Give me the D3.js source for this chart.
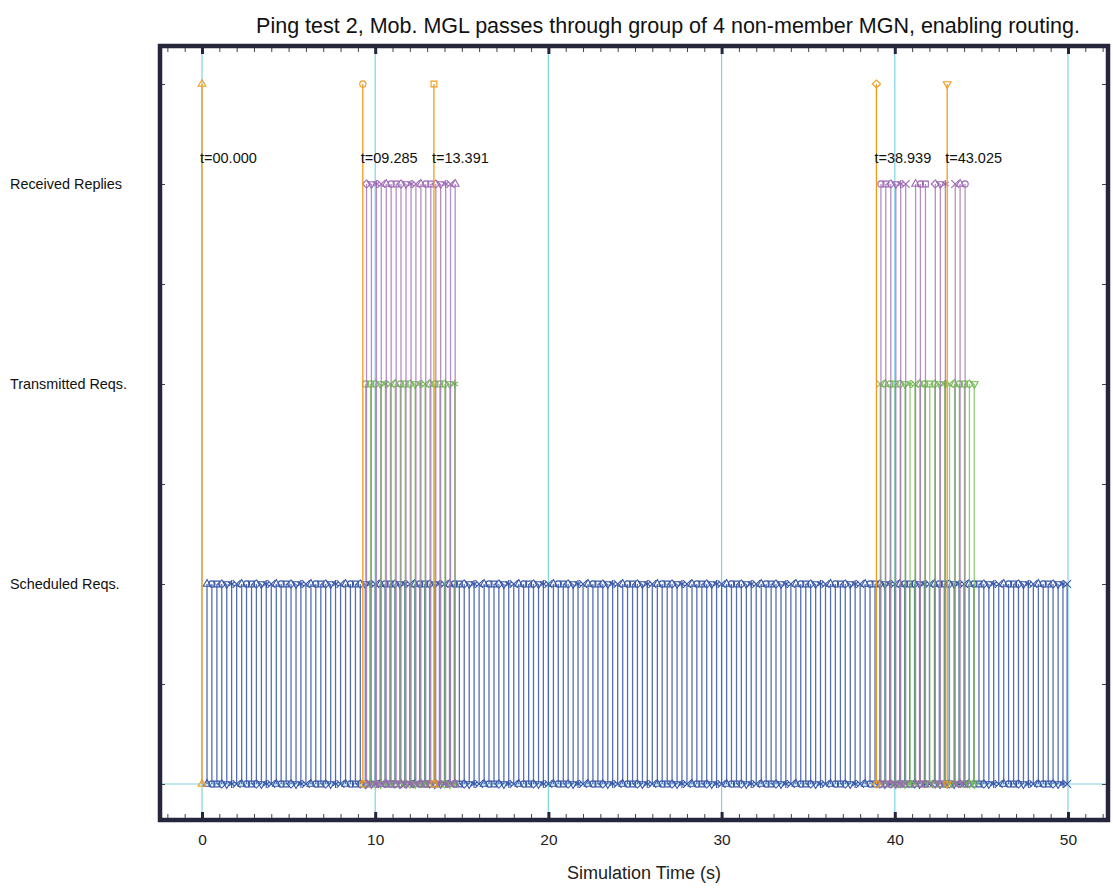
<!DOCTYPE html>
<html>
<head>
<meta charset="utf-8">
<script src="https://cdn.jsdelivr.net/npm/d3@7"></script>
<style>
  body { margin: 0; background: #fff; }
  svg { display: block; font-family: "Liberation Sans", Arial, sans-serif; }
</style>
</head>
<body>
<div id="visualization"></div>
<script>
// ---- data ----
const title = "Ping test 2, Mob. MGL passes through group of 4 non-member MGN, enabling routing.";
const levelLabels = ["Scheduled Reqs.", "Transmitted Reqs.", "Received Replies"];
const xTicks = [0, 10, 20, 30, 40, 50];

const scheduledTimes = [
  0.29, 0.57, 0.86, 1.14, 1.43, 1.71, 2.00,
  2.29, 2.57, 2.86, 3.14, 3.43, 3.71, 4.00,
  4.29, 4.57, 4.86, 5.14, 5.43, 5.71, 6.00,
  6.29, 6.57, 6.86, 7.14, 7.43, 7.71, 8.00,
  8.29, 8.57, 8.86, 9.14, 9.43, 9.71, 10.00,
  10.29, 10.57, 10.86, 11.14, 11.43, 11.71, 12.00,
  12.29, 12.57, 12.86, 13.14, 13.43, 13.71, 14.00,
  14.29, 14.57, 14.86, 15.14, 15.43, 15.71, 16.00,
  16.29, 16.57, 16.86, 17.14, 17.43, 17.71, 18.00,
  18.29, 18.57, 18.86, 19.14, 19.43, 19.71, 20.00,
  20.29, 20.57, 20.86, 21.14, 21.43, 21.71, 22.00,
  22.29, 22.57, 22.86, 23.14, 23.43, 23.71, 24.00,
  24.29, 24.57, 24.86, 25.14, 25.43, 25.71, 26.00,
  26.29, 26.57, 26.86, 27.14, 27.43, 27.71, 28.00,
  28.29, 28.57, 28.86, 29.14, 29.43, 29.71, 30.00,
  30.29, 30.57, 30.86, 31.14, 31.43, 31.71, 32.00,
  32.29, 32.57, 32.86, 33.14, 33.43, 33.71, 34.00,
  34.29, 34.57, 34.86, 35.14, 35.43, 35.71, 36.00,
  36.29, 36.57, 36.86, 37.14, 37.43, 37.71, 38.00,
  38.29, 38.57, 38.86, 39.14, 39.43, 39.71, 40.00,
  40.29, 40.57, 40.86, 41.14, 41.43, 41.71, 42.00,
  42.29, 42.57, 42.86, 43.14, 43.43, 43.71, 44.00,
  44.29, 44.57, 44.86, 45.14, 45.43, 45.71, 46.00,
  46.29, 46.57, 46.86, 47.14, 47.43, 47.71, 48.00,
  48.29, 48.57, 48.86, 49.14, 49.43, 49.71, 49.95
];

const transmittedTimes = [
  9.45, 9.73, 10.02, 10.31, 10.59, 10.88, 11.16, 11.45, 11.73, 12.02,
  12.31, 12.59, 12.88, 13.16, 13.45, 13.73, 14.02, 14.31, 14.59,
  39.16, 39.45, 39.73, 40.02, 40.31, 40.59, 40.88, 41.16, 41.45, 41.73,
  42.02, 42.31, 42.59, 42.88, 43.16, 43.45, 43.73, 44.02, 44.31, 44.59
];

const receivedTimes = [
  9.50, 9.78, 10.07, 10.35, 10.64, 10.92, 11.21, 11.49, 11.78, 12.07,
  12.35, 12.64, 12.92, 13.21, 13.50, 13.78, 14.07, 14.35, 14.62,
  39.20, 39.48, 39.77, 40.06, 40.34, 40.63, 41.20, 41.48, 41.77,
  42.34, 42.63, 42.92, 43.49, 43.77, 44.06
];

const eventTimes = [0, 9.285, 13.391, 38.939, 43.025];
const eventLabels = ["t=00.000", "t=09.285", "t=13.391", "t=38.939", "t=43.025"];
const eventMarkers = ["triUp", "circle", "square", "diamond", "triDown"];

// ---- layout ----
const width = 1113;
const height = 889;
const frame = {left: 160, right: 1108, top: 46, bottom: 820};

const svg = d3.select("#visualization").append("svg")
  .attr("width", width)
  .attr("height", height);

const x = d3.scaleLinear().domain([-2.425, 52.31]).range([frame.left, frame.right]);
const y = d3.scaleLinear().domain([-0.18, 3.69]).range([frame.bottom, frame.top]);

const markerCycle = ["triUp", "circle", "square", "diamond", "triDown", "asterisk", "times"];

function markerPath(type) {
  const s = {
    triUp: d3.symbolTriangle2, triDown: d3.symbolTriangle2, circle: d3.symbolCircle,
    square: d3.symbolSquare2, diamond: d3.symbolDiamond2, asterisk: d3.symbolAsterisk, times: d3.symbolTimes
  }[type];
  return d3.symbol(s, type === "circle" ? 30 : 42)();
}

// cyan grid
svg.append("g")
  .selectAll("line")
  .data(xTicks)
  .join("line")
  .attr("x1", d => x(d)).attr("x2", d => x(d))
  .attr("y1", frame.top).attr("y2", frame.bottom)
  .attr("stroke", "#7fd4e3").attr("stroke-width", 1.2);

svg.append("line")
  .attr("x1", frame.left).attr("x2", frame.right)
  .attr("y1", y(0)).attr("y2", y(0))
  .attr("stroke", "#7fd4e3").attr("stroke-width", 1.2);

// stems with markers at both ends
function stems(times, level, color, opacity, markers) {
  const g = svg.append("g");
  g.selectAll("line")
    .data(times)
    .join("line")
    .attr("x1", d => x(d)).attr("x2", d => x(d))
    .attr("y1", y(0)).attr("y2", y(level))
    .attr("stroke", color).attr("stroke-opacity", opacity).attr("stroke-width", 1.3);
  [0, level].forEach(lv => {
    g.append("g").selectAll("path")
      .data(times)
      .join("path")
      .attr("d", (d, i) => markerPath(markers(i)))
      .attr("transform", (d, i) => `translate(${x(d)},${y(lv)})` + (markers(i) === "triDown" ? " rotate(180)" : ""))
      .attr("fill", "none")
      .attr("stroke", color).attr("stroke-width", 1.1);
  });
}

stems(scheduledTimes, 1, "#3656a8", 0.85, i => markerCycle[i % markerCycle.length]);
stems(transmittedTimes, 2, "#74bb52", 0.75, i => markerCycle[(i + 1) % markerCycle.length]);
stems(receivedTimes, 3, "#9c68b4", 0.75, i => markerCycle[(i + 3) % markerCycle.length]);
stems(eventTimes, 3.5, "#f39a1e", 1, i => eventMarkers[i]);

// event labels
svg.append("g")
  .selectAll("text")
  .data(eventTimes)
  .join("text")
  .attr("x", d => x(d) - 2)
  .attr("y", y(3.13) + 5)
  .attr("font-size", 14.5)
  .attr("fill", "#111")
  .text((d, i) => eventLabels[i]);

// level labels on the left
svg.append("g")
  .selectAll("text")
  .data(levelLabels)
  .join("text")
  .attr("x", 10)
  .attr("y", (d, i) => y(i + 1) + 5)
  .attr("font-size", 14.4)
  .attr("fill", "#111")
  .text(d => d);

// inner ticks
const frameColor = "#25263c";
const minor = d3.range(-2, 53);
const yTicks = d3.range(0, 3.51, 0.5);

svg.append("g").attr("transform", `translate(0,${frame.bottom - 2})`)
  .call(d3.axisTop(x).tickValues(minor).tickSize(4).tickFormat(""))
  .call(g => g.select(".domain").remove())
  .call(g => g.selectAll("line").attr("stroke", "#444"));
svg.append("g").attr("transform", `translate(0,${frame.top + 2})`)
  .call(d3.axisBottom(x).tickValues(minor).tickSize(4).tickFormat(""))
  .call(g => g.select(".domain").remove())
  .call(g => g.selectAll("line").attr("stroke", "#444"));
svg.append("g").attr("transform", `translate(0,${frame.bottom - 2})`)
  .call(d3.axisTop(x).tickValues(xTicks).tickSize(6).tickFormat(""))
  .call(g => g.select(".domain").remove())
  .call(g => g.selectAll("line").attr("stroke", frameColor).attr("stroke-width", 3));
svg.append("g").attr("transform", `translate(0,${frame.top + 2})`)
  .call(d3.axisBottom(x).tickValues(xTicks).tickSize(6).tickFormat(""))
  .call(g => g.select(".domain").remove())
  .call(g => g.selectAll("line").attr("stroke", frameColor).attr("stroke-width", 3));
svg.append("g").attr("transform", `translate(${frame.left + 2},0)`)
  .call(d3.axisRight(y).tickValues(yTicks).tickSize(3).tickFormat(""))
  .call(g => g.select(".domain").remove())
  .call(g => g.selectAll("line").attr("stroke", "#444"));
svg.append("g").attr("transform", `translate(${frame.right - 2},0)`)
  .call(d3.axisLeft(y).tickValues(yTicks).tickSize(4).tickFormat(""))
  .call(g => g.select(".domain").remove())
  .call(g => g.selectAll("line").attr("stroke", "#444"));

// x tick labels
svg.append("g").attr("transform", `translate(0,${frame.bottom})`)
  .call(d3.axisBottom(x).tickValues(xTicks).tickSize(0).tickPadding(14))
  .call(g => g.select(".domain").remove())
  .call(g => g.selectAll("text").attr("font-size", 15.5).attr("fill", "#222")
    .attr("font-family", "Liberation Sans, Arial, sans-serif"));

// frame
svg.append("rect")
  .attr("x", frame.left).attr("y", frame.top)
  .attr("width", frame.right - frame.left).attr("height", frame.bottom - frame.top)
  .attr("fill", "none").attr("stroke", frameColor).attr("stroke-width", 4.5);

// titles
svg.append("text")
  .attr("x", 668).attr("y", 33)
  .attr("text-anchor", "middle")
  .attr("font-size", 21.5)
  .attr("fill", "#111")
  .text(title);

svg.append("text")
  .attr("x", 644).attr("y", 879)
  .attr("text-anchor", "middle")
  .attr("font-size", 18)
  .attr("fill", "#222")
  .text("Simulation Time (s)");
</script>
</body>
</html>
